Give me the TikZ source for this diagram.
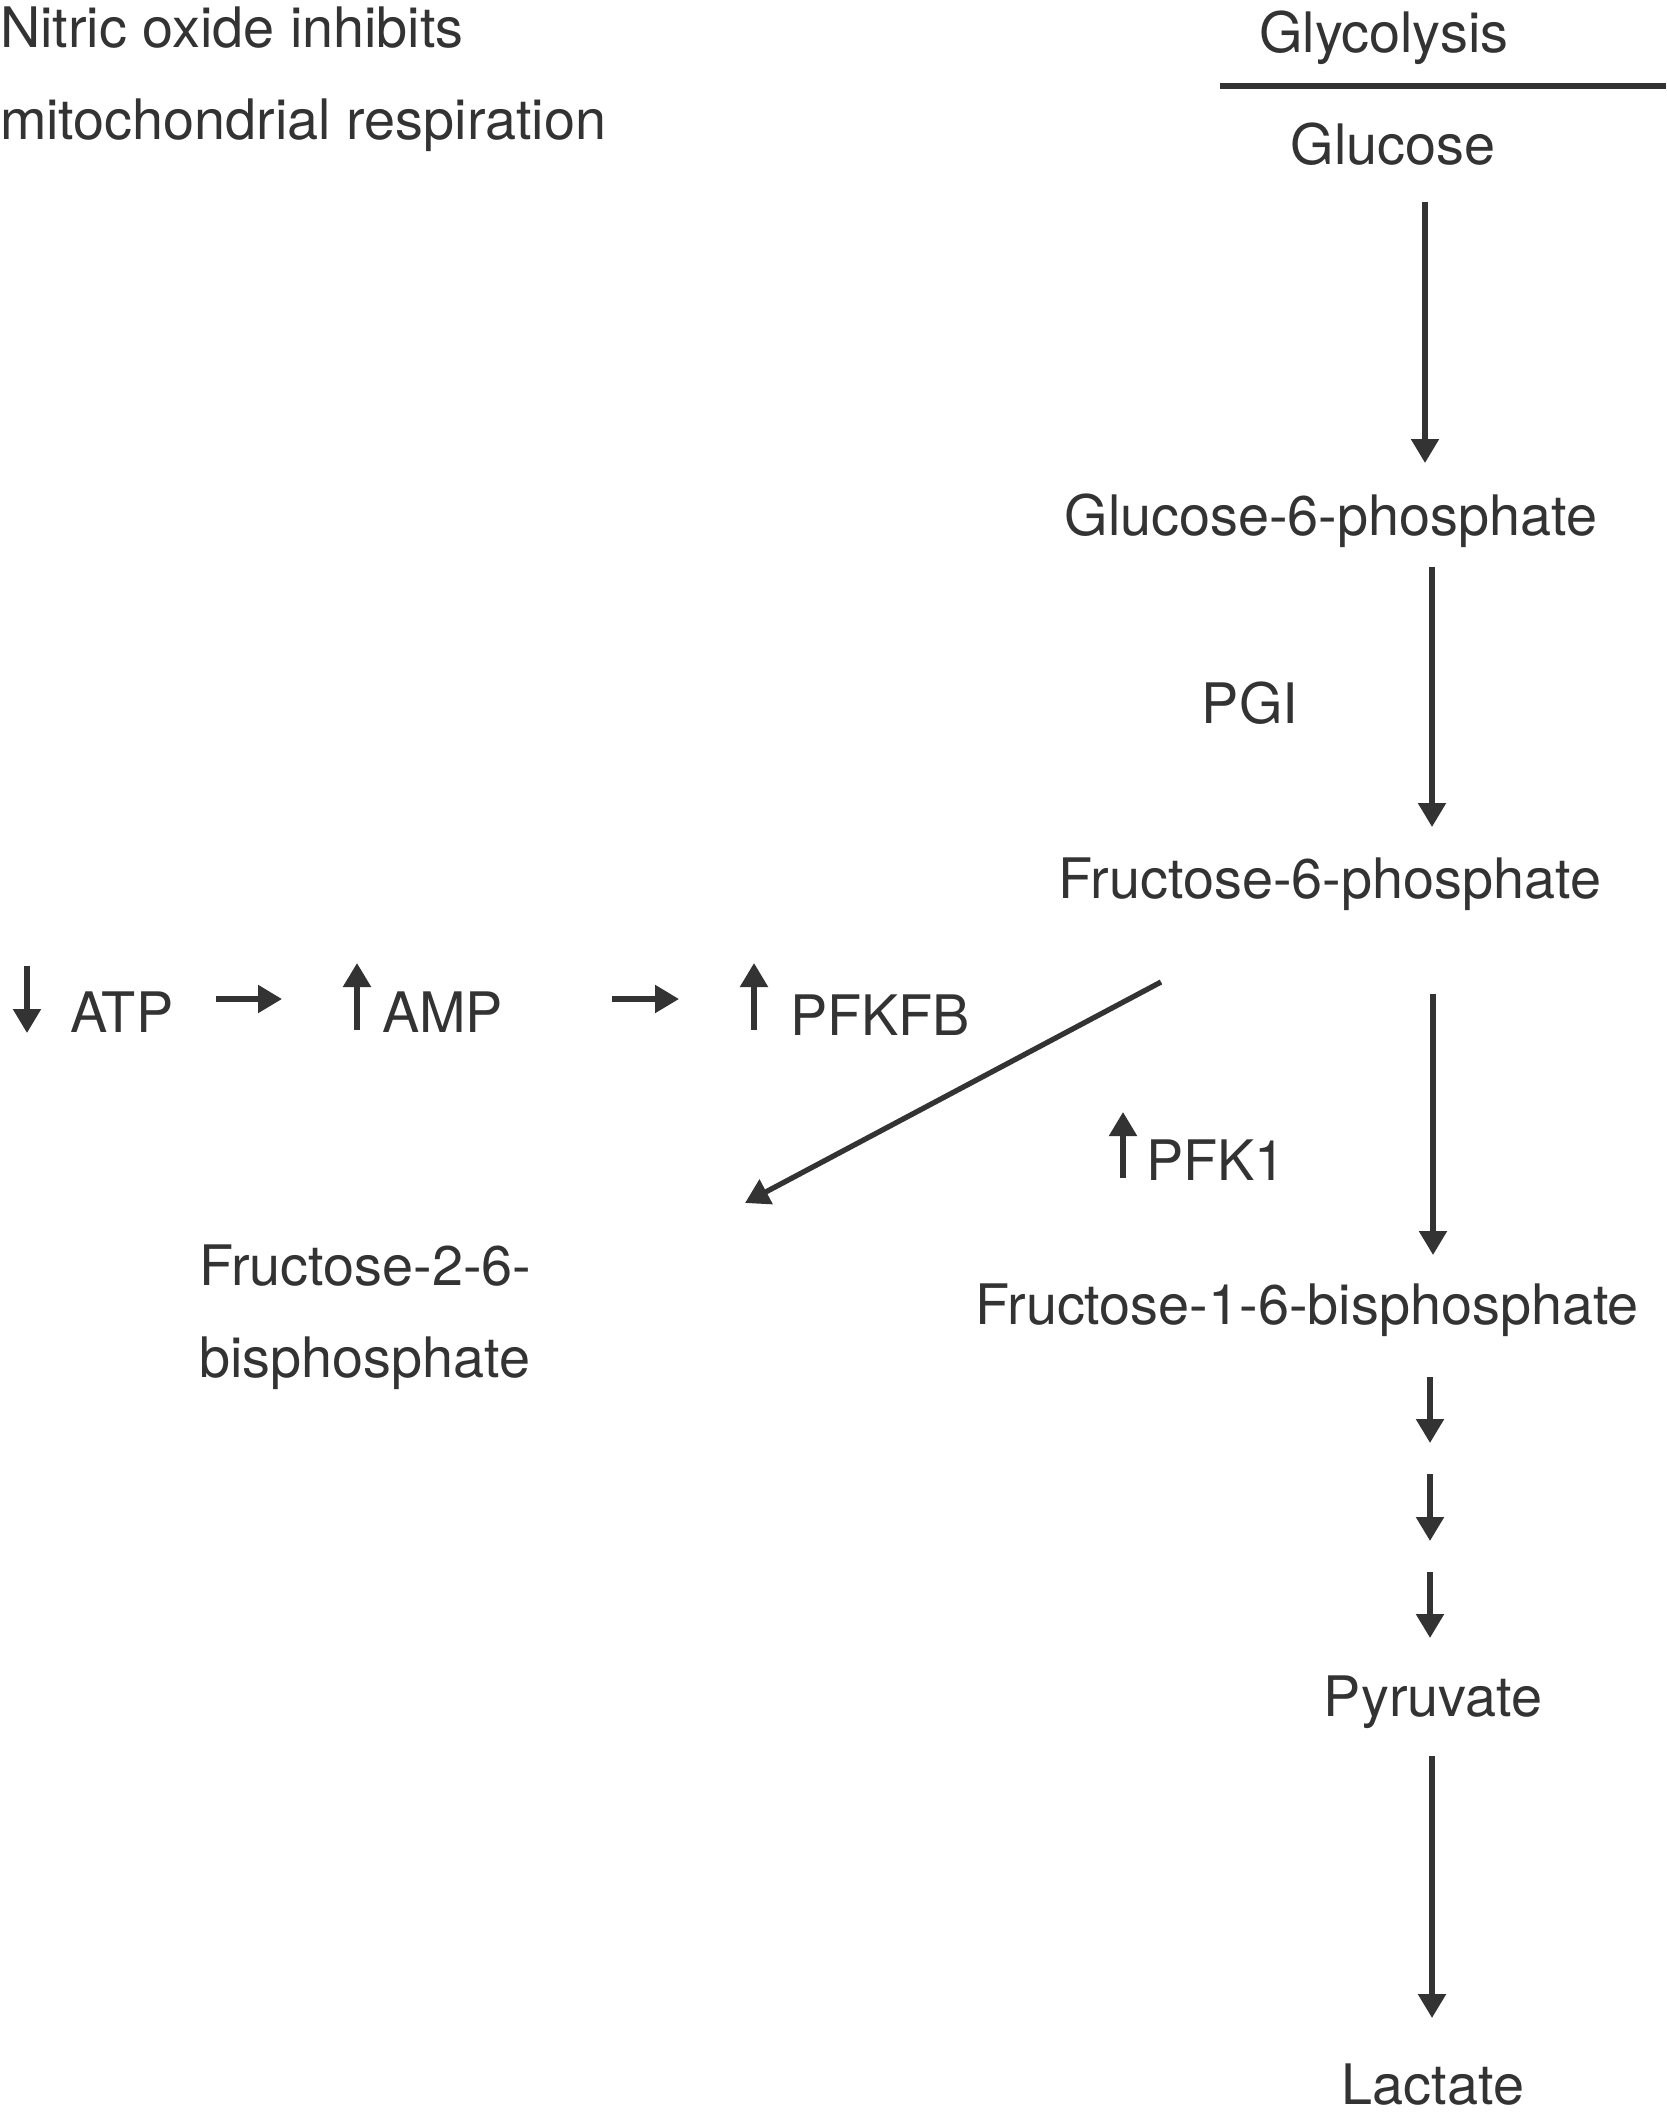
\documentclass[tikz,border=0pt]{standalone}
\usepackage{fontspec}
\setmainfont{TeX Gyre Heros}
\usetikzlibrary{arrows.meta}
\definecolor{ink}{RGB}{51,51,51}
\tikzset{
  lbl/.style={inner sep=0pt, outer sep=0pt, text=ink, font=\fontsize{55.8}{66}\selectfont},
  arr/.style={draw=ink, line width=5.3pt, -{Triangle[width=27pt,length=24pt]}},
  rule/.style={draw=ink, line width=5.8pt}
}
\begin{document}
\begin{tikzpicture}[x=1pt,y=-1pt]
\useasboundingbox (0,0) rectangle (1666,2116);
% texts
\node[lbl, anchor=base west] (nitric) at (0,48) {Nitric oxide inhibits};
\node[lbl, anchor=base west] (mito) at (0,140) {mitochondrial respiration};
\node[lbl, anchor=base] (glyco) at (1384,53) {Glycolysis};
\node[lbl, anchor=base] (glucose) at (1393,165) {Glucose};
\node[lbl, anchor=base] (g6p) at (1331,535) {Glucose-6-phosphate};
\node[lbl, anchor=base] (pgi) at (1250,723) {PGI};
\node[lbl, anchor=base] (f6p) at (1330,898) {Fructose-6-phosphate};
\node[lbl, anchor=base] (f16bp) at (1307,1324) {Fructose-1-6-bisphosphate};
\node[lbl, anchor=base] (pyr) at (1433,1716) {Pyruvate};
\node[lbl, anchor=base] (lac) at (1433,2104) {Lactate};
\node[lbl, anchor=base west] (f26a) at (199,1285) {Fructose-2-6-};
\node[lbl, anchor=base west] (f26b) at (199,1377) {bisphosphate};
\node[lbl, anchor=base west] (atp) at (70,1032) {ATP};
\node[lbl, anchor=base west] (amp) at (382,1032) {AMP};
\node[lbl, anchor=base west] (pfkfb) at (790,1035) {PFKFB};
\node[lbl, anchor=base west] (pfk1) at (1146,1180) {PFK1};
% rule under Glycolysis
\coordinate (ruleL) at (1220,86);
\coordinate (ruleR) at (1666,86);
\draw[rule] (ruleL) -- (ruleR);
% connector end points
\coordinate (a1s) at (1425,202);  \coordinate (a1e) at (1425,463);
\coordinate (a2s) at (1432,567);  \coordinate (a2e) at (1432,827);
\coordinate (a3s) at (1433,994);  \coordinate (a3e) at (1433,1255);
\coordinate (b1s) at (1430,1377); \coordinate (b1e) at (1430,1443);
\coordinate (b2s) at (1430,1474); \coordinate (b2e) at (1430,1541);
\coordinate (b3s) at (1430,1572); \coordinate (b3e) at (1430,1638);
\coordinate (a4s) at (1432,1756); \coordinate (a4e) at (1432,2018);
\coordinate (ds) at (1161,982);   \coordinate (de) at (745,1203);
\coordinate (atpS) at (27,966);   \coordinate (atpE) at (27,1033);
\coordinate (r1s) at (216,999);   \coordinate (r1e) at (282,999);
\coordinate (ampS) at (357,1030); \coordinate (ampE) at (357,963);
\coordinate (r2s) at (612,999);   \coordinate (r2e) at (679,999);
\coordinate (pfkfbS) at (754,1030); \coordinate (pfkfbE) at (754,963);
\coordinate (pfk1S) at (1123,1178); \coordinate (pfk1E) at (1123,1112);
% connectors
\draw[arr] (a1s) -- (a1e);
\draw[arr] (a2s) -- (a2e);
\draw[arr] (a3s) -- (a3e);
\draw[arr] (b1s) -- (b1e);
\draw[arr] (b2s) -- (b2e);
\draw[arr] (b3s) -- (b3e);
\draw[arr] (a4s) -- (a4e);
\draw[arr] (ds) -- (de);
\draw[arr] (atpS) -- (atpE);
\draw[arr] (r1s) -- (r1e);
\draw[arr] (ampS) -- (ampE);
\draw[arr] (r2s) -- (r2e);
\draw[arr] (pfkfbS) -- (pfkfbE);
\draw[arr] (pfk1S) -- (pfk1E);
\end{tikzpicture}
\end{document}
